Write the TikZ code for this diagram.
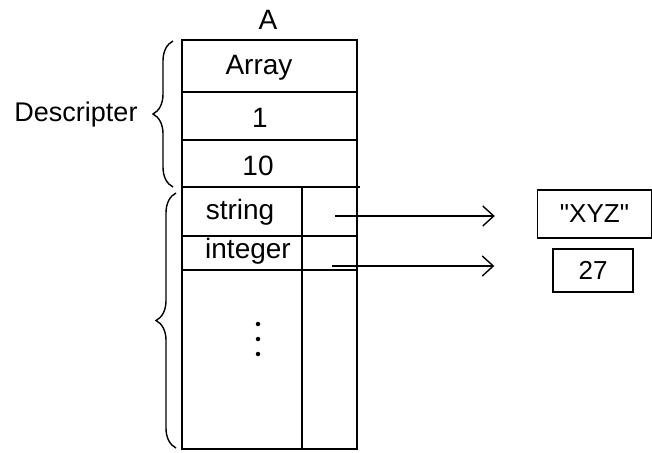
\documentclass[tikz,border=0pt]{standalone}
\usepackage{fontspec}
\setmainfont{Liberation Sans}
\usetikzlibrary{arrows.meta,decorations.pathreplacing}
\begin{document}
\begin{tikzpicture}[x=1pt,y=-1pt,line width=1.4pt,
  txt/.style={inner sep=0pt,font=\fontsize{28}{30}\selectfont},
  valbox/.style={draw,inner sep=0pt,font=\fontsize{26}{28}\selectfont},
  ptr/.style={-{Straight Barb[length=11pt,width=20pt]}},
  brc/.style={decorate,decoration={brace,amplitude=20pt,aspect=0.5}},
  dot/.style={circle,fill,inner sep=0pt,minimum size=4.5pt}]
\useasboundingbox (0,0) rectangle (652,452);
% table
\draw (182,40) rectangle (357,449);
\draw (182,92) -- (357,92);
\draw (182,140) -- (357,140);
\draw (182,187) -- (360,187);
\draw (182,236) -- (357,236);
\draw (182,270) -- (357,270);
\draw (302,187) -- (302,449);
% labels
\node[txt] (A) at (268,20) {A};
\node[txt] (arr) at (259,68) {Array};
\node[txt] (one) at (260,118) {1};
\node[txt] (ten) at (258,166) {10};
\node[txt] (str) at (240,212) {string};
\node[txt] (int) at (248,251) {integer};
\node[dot] (d1) at (258,324) {};
\node[dot] (d2) at (258,339) {};
\node[dot] (d3) at (258,354) {};
% braces
\draw[brc] (173,187) -- (173,41);
\draw[brc] (176,448) -- (176,193);
\node[txt,font=\fontsize{27}{29}\selectfont] (desc) at (76,115) {Descripter};
% value boxes
\node[valbox,minimum width=114pt,minimum height=48pt] (xyz) at (594.5,214) {\textquotedbl XYZ\textquotedbl};
\node[valbox,minimum width=80pt,minimum height=43pt] (v27) at (593,270.5) {27};
% pointers
\coordinate (p1) at (335,216);
\coordinate (p2) at (332,266);
\draw[ptr,shorten >=42pt] (p1) -- (p1 -| xyz.west);
\draw[ptr,shorten >=58pt] (p2) -- (p2 -| v27.west);
\end{tikzpicture}
\end{document}
